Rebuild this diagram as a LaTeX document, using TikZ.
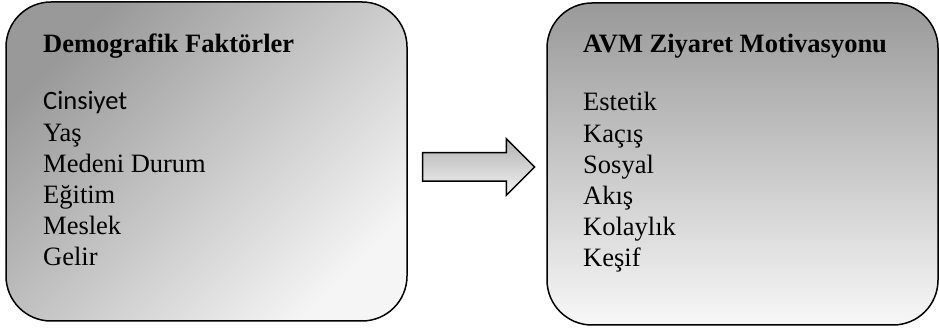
\documentclass[tikz,border=0pt]{standalone}
\usepackage{fontspec}
\setmainfont{Liberation Serif}
\newfontfamily\calibrifont{Carlito}
\usetikzlibrary{shapes.arrows}

\tikzset{
  factorBox/.style={rectangle, draw=black, line width=1.5pt, rounded corners=45pt, inner sep=0pt},
  boxTitle/.style={anchor=base west, inner sep=0pt, font=\fontsize{26.5}{31.3}\selectfont\bfseries},
  boxList/.style={anchor=base west, inner sep=0pt, align=left, font=\fontsize{26.5}{31.2}\selectfont},
}

\begin{document}
\begin{tikzpicture}[x=1pt, y=1pt]
\useasboundingbox (0,0) rectangle (939,331);

\node[factorBox, minimum width=401pt, minimum height=319pt, top color=black!40, bottom color=black!4, shading angle=45](demoBox) at (206.5,169.5){};
	\node[boxTitle](demoTitle) at (43,278){Demografik Faktörler};
	\node[boxList](demoList) at (43,65){{\calibrifont Cinsiyet}\\Yaş\\Medeni Durum\\Eğitim\\Meslek\\Gelir};

\node[factorBox, minimum width=391pt, minimum height=322pt, top color=black!40, bottom color=black!3](avmBox) at (742.5,167){};
	\node[boxTitle](avmTitle) at (583,278){AVM Ziyaret Motivasyonu};
	\node[boxList](avmList) at (583,64){Estetik\\Kaçış\\Sosyal\\Akış\\Kolaylık\\Keşif};

\node[single arrow, draw=black, line width=1.5pt, top color=black!30, bottom color=black!5, single arrow head extend=14pt, single arrow tip angle=90, minimum height=112pt, inner xsep=0pt, inner ysep=13.5pt](flowArrow) at (471.5,164){};
\end{tikzpicture}
\end{document}
